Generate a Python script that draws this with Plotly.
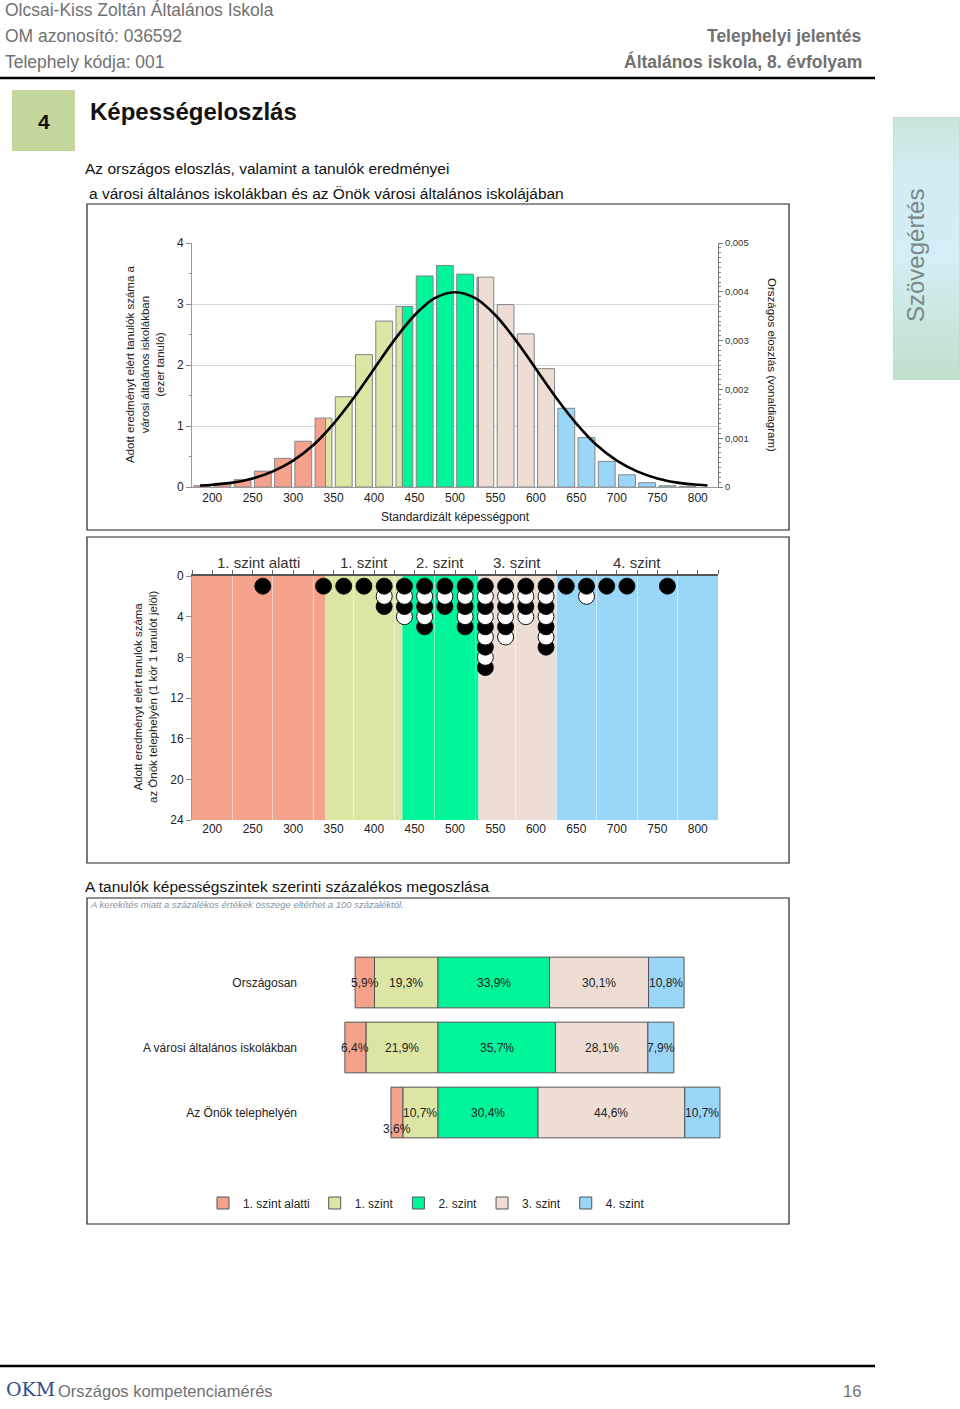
import plotly.graph_objects as go

FONT = "Liberation Sans, Arial, sans-serif"
W, H = 960, 1409

# ---------------- data ----------------
levels = ["1. szint alatti", "1. szint", "2. szint", "3. szint", "4. szint"]
level_colors = ["#F4A28C", "#DDE5A4", "#00F59A", "#EEDDD5", "#99D6F8"]
level_thresholds = [340, 435, 529, 625]
score_min, score_max = 175, 825
x_ticks = [200, 250, 300, 350, 400, 450, 500, 550, 600, 650, 700, 750, 800]

# histogram of city schools (thousand students), bins of 25 points
hist_bin_start = [175, 200, 225, 250, 275, 300, 325, 350, 375, 400, 425, 450, 475,
                  500, 525, 550, 575, 600, 625, 650, 675, 700, 725, 750, 775]
hist_values = [0.02, 0.06, 0.12, 0.26, 0.47, 0.75, 1.13, 1.48, 2.17, 2.72, 2.96, 3.46, 3.63,
               3.49, 3.44, 2.99, 2.51, 1.94, 1.29, 0.81, 0.42, 0.20, 0.07, 0.02, 0.01]

# national distribution (line), density in thousandths
curve_x = [185, 200, 225, 250, 275, 300, 325, 350, 375, 400, 425, 450, 475, 500,
           525, 550, 575, 600, 625, 650, 675, 700, 725, 750, 775, 800, 812]
curve_density_milli = [0.03, 0.045, 0.09, 0.175, 0.32, 0.54, 0.86, 1.30, 1.83, 2.42, 3.01, 3.52, 3.87, 3.99,
                       3.87, 3.52, 3.01, 2.42, 1.83, 1.30, 0.86, 0.54, 0.32, 0.175, 0.09, 0.045, 0.03]

# students of the site (1 circle = 1 student)
dot_scores = [262.5, 337.5, 362.5, 387.5, 412.5, 437.5, 462.5, 487.5, 512.5,
              537.5, 562.5, 587.5, 612.5, 637.5, 662.5, 687.5, 712.5, 762.5]
dot_counts = [1, 1, 1, 1, 3, 4, 5, 3, 5, 9, 6, 4, 7, 1, 2, 1, 1, 1]

# percentage distribution
bar_categories = ["Országosan", "A városi általános iskolákban", "Az Önök telephelyén"]
pct_orszagos = [5.9, 19.3, 33.9, 30.1, 10.8]
pct_varosi = [6.4, 21.9, 35.7, 28.1, 7.9]
pct_telephely = [3.6, 10.7, 30.4, 44.6, 10.7]
pct_rows = [pct_orszagos, pct_varosi, pct_telephely]


def X(px):
    return px / W


def Y(py):
    return 1 - py / H


fig = go.Figure()

# ---------------- top chart: histogram + curve ----------------
edges = [score_min] + level_thresholds + [score_max]
gap = 2.1
segs = {i: {"x": [], "w": [], "y": []} for i in range(5)}
for start, v in zip(hist_bin_start, hist_values):
    lo, hi = start + gap, start + 25 - gap
    for i in range(5):
        a, b = max(lo, edges[i]), min(hi, edges[i + 1])
        if b - a > 0.05:
            segs[i]["x"].append((a + b) / 2)
            segs[i]["w"].append(b - a)
            segs[i]["y"].append(v)
for i in range(5):
    fig.add_trace(go.Bar(x=segs[i]["x"], y=segs[i]["y"], width=segs[i]["w"],
                         marker=dict(color=level_colors[i], line=dict(color="#858585", width=1)),
                         xaxis="x", yaxis="y", showlegend=False, hoverinfo="skip"))

fig.add_trace(go.Scatter(x=curve_x, y=[v / 1000 for v in curve_density_milli],
                         mode="lines", line=dict(color="black", width=2.6, shape="spline"),
                         xaxis="x", yaxis="y2", showlegend=False, hoverinfo="skip"))

# ---------------- dot chart ----------------
pts = []
for s, c in zip(dot_scores, dot_counts):
    for r in range(1, c + 1):
        pts.append((r, s))
pts.sort(key=lambda t: -t[0])
fig.add_trace(go.Scatter(x=[p[1] for p in pts], y=[p[0] for p in pts], mode="markers",
                         marker=dict(size=16, color=["black" if p[0] % 2 == 1 else "white" for p in pts],
                                     line=dict(color="#111", width=1)),
                         xaxis="x3", yaxis="y3", showlegend=False, hoverinfo="skip"))
fig.add_trace(go.Scatter(x=[None], y=[None], xaxis="x4", yaxis="y3", showlegend=False, hoverinfo="skip"))

# ---------------- bottom chart: percentage bars ----------------
order = [1, 0, 2, 3, 4]  # stacking order (negative side grows outward from zero)
for i in order:
    vals = [(-row[i] if i < 2 else row[i]) for row in pct_rows]
    fig.add_trace(go.Bar(y=bar_categories, x=vals, orientation="h", name=levels[i],
                         legendrank=i + 1,
                         marker=dict(color=level_colors[i], line=dict(color="#555", width=1)),
                         xaxis="x5", yaxis="y5", hoverinfo="skip"))

# ---------------- side tab (gradient fill on a hidden axis pair) ----------------
fig.add_trace(go.Scatter(x=[0, 1, 1, 0, 0], y=[0, 0, 1, 1, 0], mode="lines", fill="toself",
                         line=dict(color="#B8D9C8", width=1),
                         fillgradient=dict(type="vertical",
                                           colorscale=[[0, "#BEE0CB"], [0.45, "#D3EEF4"],
                                                       [0.8, "#D0EDF3"], [1, "#C6E6D8"]]),
                         xaxis="x6", yaxis="y6", showlegend=False, hoverinfo="skip"))

annotations = []
for cat, row in zip(bar_categories, pct_rows):
    centers = [-row[1] - row[0] / 2, -row[1] / 2]
    cum = 0
    for v in row[2:]:
        centers.append(cum + v / 2)
        cum += v
    for v, c in zip(row, centers):
        annotations.append(dict(x=c, y=cat, xref="x5", yref="y5", showarrow=False,
                                text=f"{v:.1f}%".replace(".", ","),
                                yshift=-16 if v < 5 else 0,
                                font=dict(size=12, color="#222", family=FONT)))

# ---------------- layout geometry ----------------
zero_px, px_per_pct = 438, 3.29
bar_left_px, bar_right_px = 298, 760
bar_range = [(bar_left_px - zero_px) / px_per_pct, (bar_right_px - zero_px) / px_per_pct]

axis_font = dict(family=FONT, size=12, color="#222")

fig.update_layout(
    width=W, height=H, margin=dict(l=0, r=0, t=0, b=0, pad=0, autoexpand=False),
    paper_bgcolor="white", plot_bgcolor="white",
    font=dict(family=FONT, color="#222"),
    separators=", ",
    barmode="relative",
    xaxis=dict(domain=[X(192), X(718)], range=[score_min, score_max], anchor="y",
               tickvals=x_ticks, ticks="", showgrid=False, zeroline=False,
               showline=True, linecolor="#9a9a9a", tickfont=axis_font),
    yaxis=dict(domain=[Y(487), Y(243)], range=[0, 4], anchor="x", dtick=1,
               ticks="outside", ticklen=5, tickcolor="#888",
               minor=dict(ticks="outside", ticklen=2, dtick=0.5, tickcolor="#888"),
               showgrid=True, gridcolor="#d3dbe0", zeroline=False,
               showline=True, linecolor="#9a9a9a", tickfont=axis_font),
    yaxis2=dict(overlaying="y", side="right", anchor="x", range=[0, 0.005], dtick=0.001,
                tickformat=".3~f", ticks="outside", ticklen=4, tickcolor="#777",
                minor=dict(ticks="outside", ticklen=2, dtick=0.0001, tickcolor="#888"),
                showgrid=False, zeroline=False, showline=True, linecolor="#777",
                tickfont=dict(family=FONT, size=9.5, color="#333")),
    xaxis3=dict(domain=[X(192), X(718)], range=[score_min, score_max], anchor="y3",
                tick0=0, dtick=50, ticks="", showgrid=False, zeroline=False,
                minor=dict(dtick=25, tick0=0, showgrid=True, gridcolor="rgba(255,255,255,0.5)", gridwidth=1),
                showline=False, tickfont=axis_font),
    xaxis4=dict(overlaying="x3", anchor="y3", side="top", range=[score_min, score_max],
                tick0=0, dtick=25, ticks="outside", ticklen=4, tickcolor="#666",
                showticklabels=False, showgrid=False, zeroline=False,
                showline=True, linecolor="#555", linewidth=1.5),
    yaxis3=dict(domain=[Y(820), Y(576)], range=[24, 0], anchor="x3", dtick=4,
                ticks="outside", ticklen=5, tickcolor="#888", showgrid=False, zeroline=False,
                showline=True, linecolor="#9a9a9a", tickfont=axis_font),
    xaxis5=dict(domain=[X(bar_left_px), X(bar_right_px)], range=bar_range, anchor="y5",
                visible=False),
    yaxis5=dict(domain=[Y(1145), Y(950)], anchor="x5", categoryorder="array",
                categoryarray=bar_categories, autorange="reversed", ticks="",
                showgrid=False, zeroline=False, showline=False, tickfont=axis_font),
    xaxis6=dict(domain=[X(893), 1], range=[0, 1], anchor="y6", visible=False, fixedrange=True),
    yaxis6=dict(domain=[Y(380), Y(117)], range=[0, 1], anchor="x6", visible=False, fixedrange=True),
    bargap=0.22,
    legend=dict(orientation="h", x=X(203), y=Y(1203), xanchor="left", yanchor="middle",
                traceorder="normal", font=dict(family=FONT, size=12, color="#222"),
                bgcolor="rgba(0,0,0,0)", itemwidth=30),
)

# ---------------- shapes ----------------
shapes = []
for i in range(5):
    shapes.append(dict(type="rect", xref="x3", yref="y3", x0=edges[i], x1=edges[i + 1], y0=24, y1=0,
                       fillcolor=level_colors[i], line=dict(width=0), layer="below"))
for y0, y1 in [(204, 530), (537, 863), (898, 1224)]:
    shapes.append(dict(type="rect", xref="paper", yref="paper", x0=X(87), x1=X(789), y0=Y(y1), y1=Y(y0),
                       line=dict(color="#222", width=1.2), fillcolor="rgba(0,0,0,0)"))
shapes.append(dict(type="line", xref="paper", yref="paper", x0=0, x1=X(875), y0=Y(78), y1=Y(78),
                   line=dict(color="black", width=2.5)))
shapes.append(dict(type="line", xref="paper", yref="paper", x0=0, x1=X(875), y0=Y(1366), y1=Y(1366),
                   line=dict(color="black", width=2.5)))
shapes.append(dict(type="rect", xref="paper", yref="paper", x0=X(12), x1=X(75), y0=Y(151), y1=Y(90),
                   fillcolor="#C4D79C", line=dict(width=0)))
fig.update_layout(shapes=shapes)


def txt(x, y, text, size, color="#222", xanchor="left", bold=False, italic=False, angle=0,
        family=FONT, yanchor="middle"):
    if bold:
        text = f"<b>{text}</b>"
    if italic:
        text = f"<i>{text}</i>"
    annotations.append(dict(x=X(x), y=Y(y), xref="paper", yref="paper", text=text, showarrow=False,
                            xanchor=xanchor, yanchor=yanchor, textangle=angle,
                            font=dict(size=size, color=color, family=family)))


grey = "#717171"
txt(3, 10, "Olcsai-Kiss Zoltán Általános Iskola", 17.5, grey)
txt(3, 36, "OM azonosító: 036592", 17.5, grey)
txt(3, 62, "Telephely kódja: 001", 17.5, grey)
txt(864, 36, "Telephelyi jelentés", 17.5, grey, xanchor="right", bold=True)
txt(864, 62, "Általános iskola, 8. évfolyam", 17.5, grey, xanchor="right", bold=True)
txt(43.5, 121, "4", 21, "#111", xanchor="center", bold=True)
txt(88, 111, "Képességeloszlás", 24, "#111", bold=True)
txt(83, 169, "Az országos eloszlás, valamint a tanulók eredményei", 15.5, "#111")
txt(87, 193, "a városi általános iskolákban és az Önök városi általános iskolájában", 15.5, "#111")
txt(915, 256, "Szövegértés", 24, "#7a8888", xanchor="center", angle=-90)

txt(145, 365, "Adott eredményt elért tanulók száma a<br>városi általános iskolákban<br>(ezer tanuló)",
    11.5, "#222", xanchor="center", angle=-90)
txt(772, 365, "Országos eloszlás (vonaldiagram)", 11.5, "#222", xanchor="center", angle=90)
txt(455, 517, "Standardizált képességpont", 12, "#222", xanchor="center")

txt(145, 697, "Adott eredményt elért tanulók száma<br>az Önök telephelyén (1 kör 1 tanulót jelöl)",
    11.5, "#222", xanchor="center", angle=-90)
for i in range(5):
    annotations.append(dict(x=(edges[i] + edges[i + 1]) / 2, y=Y(562), xref="x3", yref="paper",
                            text=levels[i], showarrow=False, xanchor="center", yanchor="middle",
                            font=dict(size=15, color="#333", family=FONT)))

txt(83, 887, "A tanulók képességszintek szerinti százalékos megoszlása", 15.5, "#111")
txt(88, 905, "A kerekítés miatt a százalékos értékek összege eltérhet a 100 százaléktól.", 9.5,
    "#8494a6", italic=True)

txt(4, 1389, "OKM", 19, "#2b4f8c", family="DejaVu Serif, serif")
txt(56, 1391, "Országos kompetenciamérés", 16.5, grey)
txt(863, 1391, "16", 16.5, grey, xanchor="right")

fig.update_layout(annotations=annotations)

fig.write_html("out.html", config={"displayModeBar": False},
               post_script="document.body.style.margin='0';document.body.style.padding='0';")
